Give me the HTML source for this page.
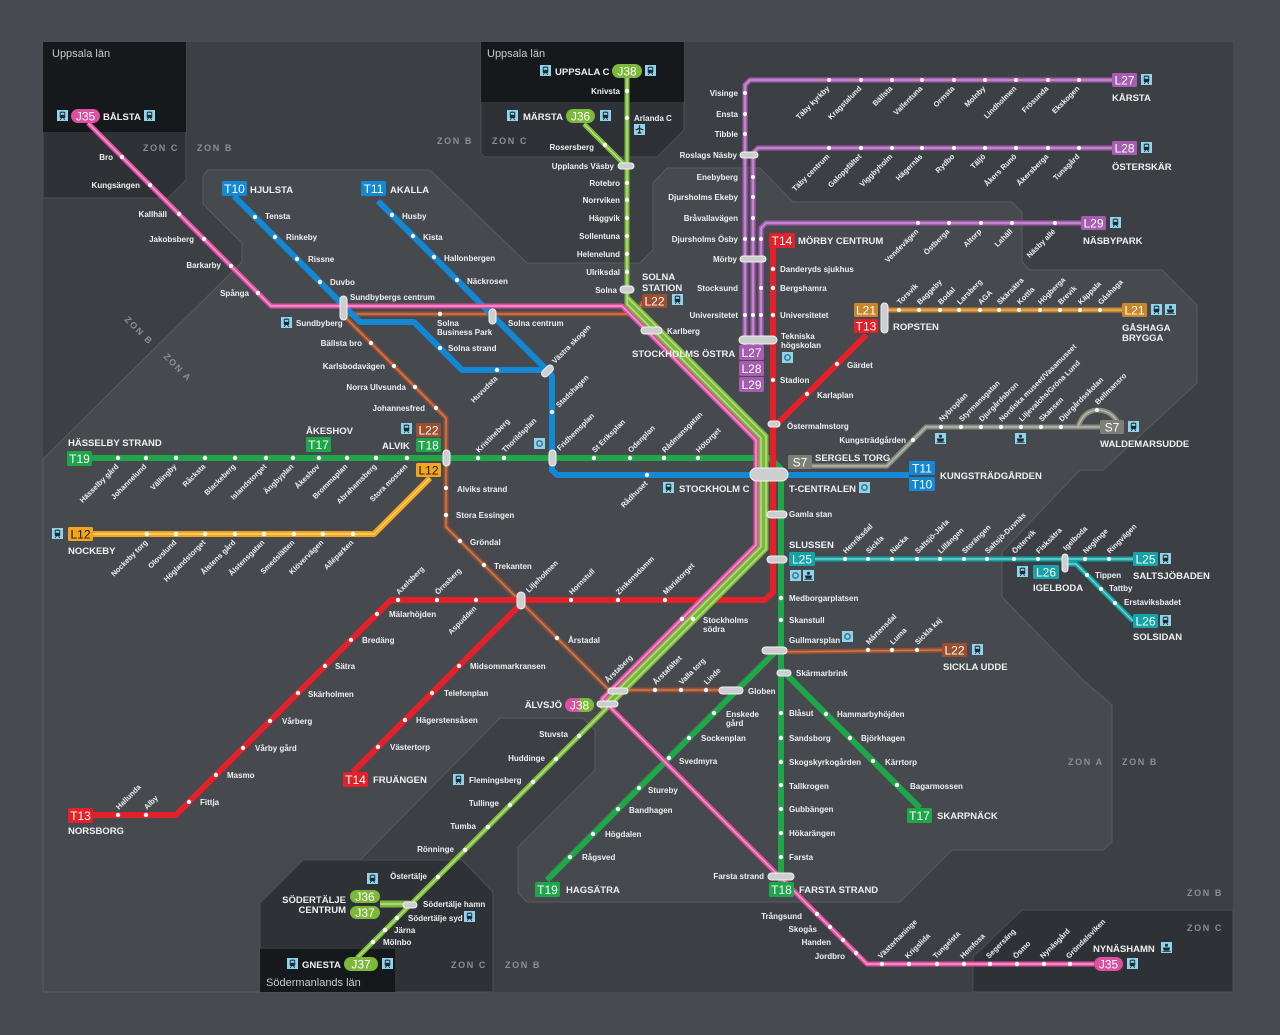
<!DOCTYPE html>
<html><head><meta charset="utf-8">
<style>
html,body{margin:0;padding:0;background:#474b51}
svg{display:block}
text{font-family:"Liberation Sans",Arial,sans-serif;font-weight:bold;fill:#eef0f2;font-size:8px}
.e{text-anchor:end}
.r{font-size:7.5px}
.t{font-size:9.5px}
.b{font-size:12px;fill:#fff;text-anchor:middle;font-weight:normal}
.bk{fill:#1a1a1a}
.z{font-size:9px;fill:#8b8f95;letter-spacing:1.6px}
.ln{font-size:11px;font-weight:normal;fill:#c9ccd0}
.cap{fill:#cdced0;stroke:#f2f2f2;stroke-width:1}
.d{fill:#fff}
.L{fill:none;stroke-linejoin:round;stroke-linecap:butt}
</style></head><body>
<svg width="1280" height="1035" viewBox="0 0 1280 1035" xmlns="http://www.w3.org/2000/svg">
<defs>
<symbol id="tr" viewBox="0 0 12 12"><rect width="12" height="12" fill="#8fd4ec"/><rect x="3" y="1.8" width="6" height="7" rx="1.5" fill="#1b2a33"/><rect x="4" y="3" width="4" height="2.2" fill="#8fd4ec"/><path d="M3.6,10.8 L4.8,8.8 M8.4,10.8 L7.2,8.8" stroke="#1b2a33" stroke-width="1"/></symbol>
<symbol id="fe" viewBox="0 0 12 12"><rect width="12" height="12" fill="#8fd4ec"/><rect x="4.5" y="2" width="3" height="3" fill="#1b2a33"/><path d="M2,6 H10 L9,9.5 H3 Z" fill="#1b2a33"/><path d="M1.5,10.5 H10.5" stroke="#1b2a33" stroke-width="0.8"/></symbol>
<symbol id="bu" viewBox="0 0 12 12"><rect width="12" height="12" fill="#8fd4ec"/><circle cx="6" cy="6" r="3.8" fill="#3f7f95"/><circle cx="6" cy="6" r="2" fill="#8fd4ec"/></symbol>
<symbol id="pl" viewBox="0 0 12 12"><rect width="12" height="12" fill="#8fd4ec"/><path d="M6,1.5 V10.5 M1.8,6.5 L6,4.8 L10.2,6.5 M4,10 L6,9 L8,10" stroke="#1b2a33" stroke-width="1.4" fill="none"/></symbol>
</defs>

<!-- ZONES -->
<rect width="1280" height="1035" fill="#474b51"/>
<rect x="43" y="42" width="1190" height="950" fill="#3c3f44"/>
<polygon fill="#46494e" stroke="#585c61" stroke-width="1" points="43,459 242,262 242,243 203,204 203,176 208,170 430,170 527,263 640,263 653,250 653,183 667,168 760,168 793,202 1012,202 1022,212 1022,262 1030,270 1162,270 1197,305 1197,383 1103,470 1080,470 1002,552 1002,597 1083,680 1112,705 1112,842 1103,850 952,850 900,902 527,902 518,893 518,847 595,770 595,730 583,718 500,718 360,860 303,860 260,903 260,992 43,992"/>
<polygon fill="#2e3135" stroke="#4c5055" points="43,42 186,42 186,180 168,198 43,198"/>
<rect x="43" y="42" width="143" height="90" fill="#16191c"/>
<path fill="#2e3135" stroke="#4c5055" d="M481,42 H684 V130 L657,157 H487 Q481,157 481,151 Z"/>
<rect x="481" y="42" width="203" height="60" fill="#16191c"/>
<polygon fill="#2e3135" stroke="#4c5055" points="303,860 462,860 493,892 493,992 260,992 260,903"/>
<rect x="260" y="949" width="135" height="43" fill="#16191c"/>
<polygon fill="#2e3135" stroke="#4c5055" points="973,992 973,957 1022,910 1233,910 1233,992"/>

<text class="ln" x="52" y="57">Uppsala län</text>
<text class="ln" x="487" y="57">Uppsala län</text>
<text class="ln" x="266" y="986">Södermanlands län</text>

<text class="z" x="143" y="151">ZON C</text>
<text class="z" x="197" y="151">ZON B</text>
<text class="z" x="437" y="144">ZON B</text>
<text class="z" x="492" y="144">ZON C</text>
<text class="z" transform="translate(124,320) rotate(45)">ZON B</text>
<text class="z" transform="translate(163,357) rotate(45)">ZON A</text>
<text class="z" x="1068" y="765">ZON A</text>
<text class="z" x="1122" y="765">ZON B</text>
<text class="z" x="1187" y="896">ZON B</text>
<text class="z" x="1187" y="931">ZON C</text>
<text class="z" x="451" y="968">ZON C</text>
<text class="z" x="505" y="968">ZON B</text>

<!-- LINES -->
<!-- Roslagsbanan purple -->
<g class="L" stroke="#a55cb1" stroke-width="5">
<path d="M1112,80 L750,80 L745,85 L745,345"/>
<path d="M1112,148 L758,148 L753,153 L753,345"/>
<path d="M1081,223 L766,223 L761,228 L761,345"/>
</g>
<g class="L" stroke="#cf9ad6" stroke-width="1.3">
<path d="M1112,80 L750,80 L745,85 L745,345"/>
<path d="M1112,148 L758,148 L753,153 L753,345"/>
<path d="M1081,223 L766,223 L761,228 L761,345"/>
</g>
<!-- L21 -->
<path class="L" stroke="#c9872c" stroke-width="5" d="M888,310 L1122,310"/>
<path class="L" stroke="#e6b46a" stroke-width="1.3" d="M888,310 L1122,310"/>
<!-- S7 -->
<path class="L" stroke="#8c8b82" stroke-width="5" d="M812,466 L887,466 L926,427 L1100,427 M1078,427 Q1083,411 1097,410 Q1110,410 1117,421"/>
<path class="L" stroke="#bdbcb3" stroke-width="1.3" d="M812,466 L887,466 L926,427 L1100,427 M1078,427 Q1083,411 1097,410 Q1110,410 1117,421"/>
<!-- Saltsjöbanan -->
<path class="L" stroke="#14a4a7" stroke-width="5" d="M815,559 L1133,559 M1065,564 L1076,564 L1133,621"/>
<path class="L" stroke="#7ad6d6" stroke-width="1.3" d="M815,559 L1133,559 M1065,564 L1076,564 L1133,621"/>
<!-- L22 brown -->
<path class="L" stroke="#9c4f2f" stroke-width="5" d="M643,302 L634,314 L342,314 L446,418 L446,527 L609,690 L738,690 L776,652 L943,650"/>
<path class="L" stroke="#c98360" stroke-width="1.3" d="M643,302 L634,314 L342,314 L446,418 L446,527 L609,690 L738,690 L776,652 L943,650"/>
<!-- L12 -->
<path class="L" stroke="#f3a51d" stroke-width="6" d="M430,478 L374,534 L93,534"/>
<path class="L" stroke="#ffd277" stroke-width="1.4" d="M430,478 L374,534 L93,534"/>
<!-- Blue -->
<g class="L" stroke="#1389d6" stroke-width="6">
<path d="M234,196 L360,322 L414,322 L462,370 L547,370 L552,376 L552,470 L557,475 L909,475"/>
<path d="M378,201 L547,370"/>
</g>
<!-- Green metro -->
<g class="L" stroke="#1fa64a" stroke-width="6">
<path d="M92,458 L770,458 L781,469 L781,882"/>
<path d="M781,646 L547,880"/>
<path d="M782,670 L920,808"/>
</g>
<!-- Red -->
<g class="L" stroke="#e4202a" stroke-width="6">
<path d="M773,248 L773,592 L765,600 L391,600 L176,815 L93,815"/>
<path d="M525,600 L353,772"/>
<path d="M774,427 L866,335"/>
</g>
<!-- Pendeltåg -->
<g class="L" stroke-width="5">
<path stroke="#7cb93a" d="M627,78 L627,304 L761,438 L761,547 L600,708"/>
<path stroke="#7cb93a" d="M627,290 L627,297 L766,436 L766,549 L357,958"/>
<path stroke="#7cb93a" d="M584,124 L625,165"/>
<path stroke="#7cb93a" stroke-width="7" d="M380,904 L410,904"/>
<path stroke="#dd4fa0" d="M88,123 L271,306 L622,306 L756,440 L756,545 L602,699 L855,952 L867,964 L1094,964"/>
</g>
<g class="L" stroke-width="1.4">
<path stroke="#b9e08a" d="M627,78 L627,304 L761,438 L761,547 L600,708"/>
<path stroke="#b9e08a" d="M627,297 L766,436 L766,549 L357,958"/>
<path stroke="#b9e08a" d="M584,124 L625,165"/>
<path stroke="#b9e08a" d="M380,904 L410,904"/>
<path stroke="#f79bd0" d="M88,123 L271,306 L622,306 L756,440 L756,545 L602,699 L855,952 L867,964 L1094,964"/>
</g>

<!-- STATION DOTS -->
<g class="d">
<circle cx="122" cy="157" r="2.2"/><circle cx="150" cy="185" r="2.2"/><circle cx="179" cy="214" r="2.2"/><circle cx="204" cy="239" r="2.2"/><circle cx="231" cy="266" r="2.2"/><circle cx="258" cy="293" r="2.2"/>
<circle cx="817" cy="914" r="2.2"/><circle cx="830" cy="927" r="2.2"/><circle cx="843" cy="940" r="2.2"/><circle cx="856" cy="953" r="2.2"/>
<circle cx="882" cy="964" r="2.2"/><circle cx="909" cy="964" r="2.2"/><circle cx="937" cy="964" r="2.2"/><circle cx="964" cy="964" r="2.2"/><circle cx="990" cy="964" r="2.2"/><circle cx="1017" cy="964" r="2.2"/><circle cx="1044" cy="964" r="2.2"/><circle cx="1070" cy="964" r="2.2"/>
<circle cx="682" cy="619" r="2.2"/><circle cx="693" cy="619" r="2.2"/>
<circle cx="627" cy="91" r="2.2"/><circle cx="627" cy="118" r="2.2"/><circle cx="627" cy="183" r="2.2"/><circle cx="627" cy="200" r="2.2"/><circle cx="627" cy="218" r="2.2"/><circle cx="627" cy="236" r="2.2"/><circle cx="627" cy="254" r="2.2"/><circle cx="627" cy="272" r="2.2"/><circle cx="605" cy="145" r="2.2"/>
<circle cx="579" cy="736" r="2.2"/><circle cx="556" cy="759" r="2.2"/><circle cx="533" cy="782" r="2.2"/><circle cx="510" cy="805" r="2.2"/><circle cx="488" cy="827" r="2.2"/><circle cx="465" cy="850" r="2.2"/><circle cx="438" cy="877" r="2.2"/><circle cx="397" cy="918" r="2.2"/><circle cx="385" cy="930" r="2.2"/><circle cx="373" cy="942" r="2.2"/>
<circle cx="773" cy="269" r="2.2"/><circle cx="773" cy="288" r="2.2"/><circle cx="773" cy="315" r="2.2"/><circle cx="773" cy="380" r="2.2"/><circle cx="807" cy="394" r="2.2"/><circle cx="837" cy="364" r="2.2"/>
<circle cx="665" cy="600" r="2.2"/><circle cx="618" cy="600" r="2.2"/><circle cx="571" cy="600" r="2.2"/><circle cx="476" cy="600" r="2.2"/><circle cx="437" cy="600" r="2.2"/><circle cx="398" cy="600" r="2.2"/>
<circle cx="377" cy="614" r="2.2"/><circle cx="351" cy="640" r="2.2"/><circle cx="325" cy="666" r="2.2"/><circle cx="298" cy="693" r="2.2"/><circle cx="270" cy="721" r="2.2"/><circle cx="243" cy="748" r="2.2"/><circle cx="216" cy="775" r="2.2"/><circle cx="189" cy="802" r="2.2"/><circle cx="146" cy="815" r="2.2"/><circle cx="118" cy="815" r="2.2"/>
<circle cx="459" cy="666" r="2.2"/><circle cx="432" cy="693" r="2.2"/><circle cx="405" cy="720" r="2.2"/><circle cx="378" cy="747" r="2.2"/>
<circle cx="255" cy="217" r="2.2"/><circle cx="275" cy="237" r="2.2"/><circle cx="297" cy="259" r="2.2"/><circle cx="320" cy="282" r="2.2"/>
<circle cx="392" cy="215" r="2.2"/><circle cx="413" cy="236" r="2.2"/><circle cx="434" cy="257" r="2.2"/><circle cx="457" cy="280" r="2.2"/>
<circle cx="440" cy="348" r="2.2"/><circle cx="497" cy="370" r="2.2"/><circle cx="552" cy="412" r="2.2"/><circle cx="647" cy="475" r="2.2"/>
<circle cx="118" cy="458" r="2.2"/><circle cx="146" cy="458" r="2.2"/><circle cx="176" cy="458" r="2.2"/><circle cx="205" cy="458" r="2.2"/><circle cx="235" cy="458" r="2.2"/><circle cx="266" cy="458" r="2.2"/><circle cx="293" cy="458" r="2.2"/><circle cx="319" cy="458" r="2.2"/><circle cx="347" cy="458" r="2.2"/><circle cx="376" cy="458" r="2.2"/><circle cx="407" cy="458" r="2.2"/>
<circle cx="478" cy="458" r="2.2"/><circle cx="504" cy="458" r="2.2"/><circle cx="594" cy="458" r="2.2"/><circle cx="630" cy="458" r="2.2"/><circle cx="664" cy="458" r="2.2"/><circle cx="698" cy="458" r="2.2"/>
<circle cx="781" cy="598" r="2.2"/><circle cx="781" cy="620" r="2.2"/><circle cx="781" cy="713" r="2.2"/><circle cx="781" cy="738" r="2.2"/><circle cx="781" cy="762" r="2.2"/><circle cx="781" cy="785" r="2.2"/><circle cx="781" cy="809" r="2.2"/><circle cx="781" cy="833" r="2.2"/><circle cx="781" cy="857" r="2.2"/>
<circle cx="714" cy="713" r="2.2"/><circle cx="689" cy="738" r="2.2"/><circle cx="669" cy="758" r="2.2"/><circle cx="639" cy="788" r="2.2"/><circle cx="618" cy="809" r="2.2"/><circle cx="593" cy="834" r="2.2"/><circle cx="570" cy="857" r="2.2"/>
<circle cx="826" cy="714" r="2.2"/><circle cx="850" cy="738" r="2.2"/><circle cx="873" cy="761" r="2.2"/><circle cx="897" cy="785" r="2.2"/>
<circle cx="440" cy="314" r="2.2"/><circle cx="371" cy="343" r="2.2"/><circle cx="394" cy="366" r="2.2"/><circle cx="415" cy="387" r="2.2"/><circle cx="436" cy="408" r="2.2"/><circle cx="446" cy="488" r="2.2"/><circle cx="446" cy="515" r="2.2"/><circle cx="460" cy="541" r="2.2"/><circle cx="484" cy="565" r="2.2"/><circle cx="557" cy="638" r="2.2"/><circle cx="655" cy="690" r="2.2"/><circle cx="681" cy="690" r="2.2"/><circle cx="706" cy="690" r="2.2"/><circle cx="868" cy="650" r="2.2"/><circle cx="892" cy="650" r="2.2"/><circle cx="917" cy="650" r="2.2"/>
<circle cx="147" cy="534" r="2.2"/><circle cx="176" cy="534" r="2.2"/><circle cx="205" cy="534" r="2.2"/><circle cx="235" cy="534" r="2.2"/><circle cx="264" cy="534" r="2.2"/><circle cx="294" cy="534" r="2.2"/><circle cx="323" cy="534" r="2.2"/><circle cx="353" cy="534" r="2.2"/>
<circle cx="899" cy="310" r="2"/><circle cx="919" cy="310" r="2"/><circle cx="940" cy="310" r="2"/><circle cx="959" cy="310" r="2"/><circle cx="980" cy="310" r="2"/><circle cx="999" cy="310" r="2"/><circle cx="1019" cy="310" r="2"/><circle cx="1040" cy="310" r="2"/><circle cx="1060" cy="310" r="2"/><circle cx="1080" cy="310" r="2"/><circle cx="1100" cy="310" r="2"/>
<circle cx="745" cy="93" r="2"/><circle cx="745" cy="114" r="2"/><circle cx="745" cy="134" r="2"/><circle cx="753" cy="177" r="2"/><circle cx="753" cy="197" r="2"/><circle cx="753" cy="218" r="2"/><circle cx="745" cy="239" r="2"/><circle cx="753" cy="239" r="2"/><circle cx="761" cy="239" r="2"/><circle cx="761" cy="288" r="2"/><circle cx="745" cy="315" r="2"/><circle cx="753" cy="315" r="2"/><circle cx="761" cy="315" r="2"/>
<circle cx="829" cy="80" r="2"/><circle cx="861" cy="80" r="2"/><circle cx="892" cy="80" r="2"/><circle cx="922" cy="80" r="2"/><circle cx="954" cy="80" r="2"/><circle cx="985" cy="80" r="2"/><circle cx="1016" cy="80" r="2"/><circle cx="1048" cy="80" r="2"/><circle cx="1079" cy="80" r="2"/>
<circle cx="829" cy="148" r="2"/><circle cx="861" cy="148" r="2"/><circle cx="892" cy="148" r="2"/><circle cx="922" cy="148" r="2"/><circle cx="954" cy="148" r="2"/><circle cx="985" cy="148" r="2"/><circle cx="1016" cy="148" r="2"/><circle cx="1048" cy="148" r="2"/><circle cx="1079" cy="148" r="2"/>
<circle cx="918" cy="223" r="2"/><circle cx="949" cy="223" r="2"/><circle cx="981" cy="223" r="2"/><circle cx="1012" cy="223" r="2"/><circle cx="1055" cy="223" r="2"/>
<circle cx="913" cy="440" r="2"/><circle cx="941" cy="427" r="2"/><circle cx="961" cy="427" r="2"/><circle cx="981" cy="427" r="2"/><circle cx="1001" cy="427" r="2"/><circle cx="1021" cy="427" r="2"/><circle cx="1041" cy="427" r="2"/><circle cx="1061" cy="427" r="2"/><circle cx="1097" cy="410" r="2"/>
<circle cx="845" cy="559" r="2"/><circle cx="868" cy="559" r="2"/><circle cx="892" cy="559" r="2"/><circle cx="917" cy="559" r="2"/><circle cx="940" cy="559" r="2"/><circle cx="964" cy="559" r="2"/><circle cx="987" cy="559" r="2"/><circle cx="1014" cy="559" r="2"/><circle cx="1038" cy="559" r="2"/><circle cx="1085" cy="559" r="2"/><circle cx="1109" cy="559" r="2"/>
<circle cx="1087" cy="575" r="2"/><circle cx="1101" cy="589" r="2"/><circle cx="1115" cy="603" r="2"/>
</g>

<!-- INTERCHANGE CAPSULES -->
<g class="cap">
<rect x="340" y="296" width="7" height="24" rx="3.5"/>
<rect x="489" y="309" width="7" height="15" rx="3.5"/>
<rect x="544" y="364" width="7" height="14" rx="3.5" transform="rotate(45 547.5 371)"/>
<rect x="443" y="450" width="7" height="16" rx="3.5"/>
<rect x="549" y="450" width="7" height="16" rx="3.5"/>
<rect x="750" y="468" width="38" height="13" rx="6.5"/>
<rect x="767" y="511" width="20" height="7" rx="3.5"/>
<rect x="767" y="556" width="20" height="7" rx="3.5"/>
<rect x="517" y="592" width="8" height="17" rx="4"/>
<rect x="762" y="647" width="25" height="7" rx="3.5"/>
<rect x="777" y="670" width="14" height="6" rx="3"/>
<rect x="719" y="687" width="24" height="7" rx="3.5"/>
<rect x="608" y="688" width="20" height="6" rx="3"/>
<rect x="597" y="701" width="21" height="6" rx="3"/>
<rect x="768" y="873" width="26" height="7" rx="3.5"/>
<rect x="618" y="163" width="16" height="6" rx="3"/>
<rect x="620" y="286" width="14" height="7" rx="3.5"/>
<rect x="641" y="327" width="21" height="7" rx="3.5"/>
<rect x="740" y="152" width="18" height="6" rx="3"/>
<rect x="740" y="256" width="26" height="6" rx="3"/>
<rect x="739" y="336" width="38" height="8" rx="4"/>
<rect x="768" y="421" width="12" height="6" rx="3"/>
<rect x="881" y="303" width="7" height="30" rx="3.5"/>
<rect x="1062" y="554" width="6" height="18" rx="3"/>
<rect x="403" y="902" width="14" height="6" rx="3"/>
</g>

<!-- BADGES -->
<g>
<rect x="222" y="181" width="25" height="15" rx="1.5" fill="#1389d6"/><text class="b" x="234.5" y="193">T10</text>
<rect x="361" y="181" width="25" height="15" rx="1.5" fill="#1389d6"/><text class="b" x="373.5" y="193">T11</text>
<rect x="909" y="461" width="26" height="14" rx="1.5" fill="#1389d6"/><text class="b" x="922" y="472.5">T11</text>
<rect x="909" y="477" width="26" height="14" rx="1.5" fill="#1389d6"/><text class="b" x="922" y="488.5">T10</text>
<rect x="67" y="451" width="25" height="15" rx="1.5" fill="#1fa64a"/><text class="b" x="79.5" y="463">T19</text>
<rect x="306" y="437" width="25" height="15" rx="1.5" fill="#1fa64a"/><text class="b" x="318.5" y="449">T17</text>
<rect x="416" y="438" width="25" height="14" rx="1.5" fill="#1fa64a"/><text class="b" x="428.5" y="449.5">T18</text>
<rect x="416" y="423" width="25" height="14" rx="1.5" fill="#9c4f2f"/><text class="b" x="428.5" y="434.5">L22</text>
<rect x="416" y="463" width="25" height="14" rx="1.5" fill="#f3a51d"/><text class="b bk" x="428.5" y="474.5">L12</text>
<rect x="68" y="527" width="25" height="14" rx="1.5" fill="#f3a51d"/><text class="b bk" x="80.5" y="538.5">L12</text>
<rect x="68" y="808" width="25" height="15" rx="1.5" fill="#e4202a"/><text class="b" x="80.5" y="820">T13</text>
<rect x="343" y="772" width="25" height="15" rx="1.5" fill="#e4202a"/><text class="b" x="355.5" y="784">T14</text>
<rect x="769" y="233" width="26" height="15" rx="1.5" fill="#e4202a"/><text class="b" x="782" y="245">T14</text>
<rect x="854" y="303" width="24" height="14" rx="1.5" fill="#c9872c"/><text class="b" x="866" y="314.5">L21</text>
<rect x="854" y="319" width="24" height="14" rx="1.5" fill="#e4202a"/><text class="b" x="866" y="330.5">T13</text>
<rect x="1122" y="303" width="25" height="14" rx="1.5" fill="#c9872c"/><text class="b" x="1134.5" y="314.5">L21</text>
<rect x="1112" y="73" width="25" height="14" rx="1.5" fill="#a55cb1"/><text class="b" x="1124.5" y="84.5">L27</text>
<rect x="1112" y="141" width="25" height="14" rx="1.5" fill="#a55cb1"/><text class="b" x="1124.5" y="152.5">L28</text>
<rect x="1081" y="216" width="25" height="14" rx="1.5" fill="#a55cb1"/><text class="b" x="1093.5" y="227.5">L29</text>
<rect x="739" y="345" width="25" height="15" rx="1.5" fill="#a55cb1"/><text class="b" x="751.5" y="357">L27</text>
<rect x="739" y="361" width="25" height="15" rx="1.5" fill="#a55cb1"/><text class="b" x="751.5" y="373">L28</text>
<rect x="739" y="377" width="25" height="15" rx="1.5" fill="#a55cb1"/><text class="b" x="751.5" y="389">L29</text>
<rect x="788" y="455" width="24" height="14" rx="1.5" fill="#7f7e76"/><text class="b" x="800" y="466.5">S7</text>
<rect x="1100" y="420" width="24" height="14" rx="1.5" fill="#7f7e76"/><text class="b" x="1112" y="431.5">S7</text>
<rect x="789" y="552" width="26" height="14" rx="1.5" fill="#14a4a7"/><text class="b" x="802" y="563.5">L25</text>
<rect x="1133" y="552" width="25" height="14" rx="1.5" fill="#14a4a7"/><text class="b" x="1145.5" y="563.5">L25</text>
<rect x="1033" y="565" width="26" height="14" rx="1.5" fill="#14a4a7"/><text class="b" x="1046" y="576.5">L26</text>
<rect x="1133" y="614" width="25" height="14" rx="1.5" fill="#14a4a7"/><text class="b" x="1145.5" y="625.5">L26</text>
<rect x="942" y="643" width="25" height="14" rx="1.5" fill="#9c4f2f"/><text class="b" x="954.5" y="654.5">L22</text>
<rect x="642" y="294" width="25" height="14" rx="1.5" fill="#9c4f2f"/><text class="b" x="654.5" y="305.5">L22</text>
<rect x="535" y="882" width="25" height="15" rx="1.5" fill="#1fa64a"/><text class="b" x="547.5" y="894">T19</text>
<rect x="769" y="882" width="25" height="15" rx="1.5" fill="#1fa64a"/><text class="b" x="781.5" y="894">T18</text>
<rect x="907" y="808" width="25" height="15" rx="1.5" fill="#1fa64a"/><text class="b" x="919.5" y="820">T17</text>
<!-- pills -->
<rect x="71" y="109" width="29" height="14" rx="7" fill="#dd4fa0"/><text class="b" x="85.5" y="120.5">J35</text>
<rect x="612" y="64" width="30" height="14" rx="7" fill="#7cb93a"/><text class="b" x="627" y="75.5">J38</text>
<rect x="566" y="109" width="29" height="14" rx="7" fill="#7cb93a"/><text class="b" x="580.5" y="120.5">J36</text>
<rect x="565" y="698" width="29" height="14" rx="7" fill="#dd4fa0"/><path d="M579.5,698 H587 A7,7 0 0 1 587,712 H579.5 Z" fill="#7cb93a"/><text class="b" x="579.5" y="709.5">J38</text>
<rect x="350" y="890" width="30" height="13" rx="6.5" fill="#7cb93a"/><text class="b" x="365" y="901">J36</text>
<rect x="350" y="906" width="30" height="13" rx="6.5" fill="#7cb93a"/><text class="b" x="365" y="917">J37</text>
<rect x="344" y="957" width="34" height="14" rx="7" fill="#7cb93a"/><text class="b" x="361" y="968.5">J37</text>
<rect x="1094" y="957" width="29" height="14" rx="7" fill="#dd4fa0"/><text class="b" x="1108.5" y="968.5">J35</text>
</g>

<!-- ICONS -->
<use href="#tr" x="57" y="110" width="11" height="11"/>
<use href="#tr" x="144" y="110" width="11" height="11"/>
<use href="#tr" x="540" y="65" width="11" height="11"/>
<use href="#tr" x="645" y="65" width="11" height="11"/>
<use href="#tr" x="507" y="110" width="11" height="11"/>
<use href="#tr" x="600" y="110" width="11" height="11"/>
<use href="#pl" x="634" y="124" width="11" height="11"/>
<use href="#tr" x="672" y="294" width="11" height="11"/>
<use href="#tr" x="281" y="317" width="11" height="11"/>
<use href="#tr" x="401" y="423" width="11" height="11"/>
<use href="#tr" x="52" y="528" width="11" height="11"/>
<use href="#bu" x="534" y="438" width="11" height="11"/>
<use href="#tr" x="663" y="482" width="11" height="11"/>
<use href="#bu" x="859" y="482" width="11" height="11"/>
<use href="#bu" x="782" y="352" width="11" height="11"/>
<use href="#bu" x="842" y="631" width="11" height="11"/>
<use href="#bu" x="790" y="570" width="11" height="11"/>
<use href="#fe" x="803" y="570" width="11" height="11"/>
<use href="#tr" x="1151" y="304" width="11" height="11"/>
<use href="#fe" x="1165" y="304" width="11" height="11"/>
<use href="#tr" x="1141" y="74" width="11" height="11"/>
<use href="#tr" x="1141" y="142" width="11" height="11"/>
<use href="#tr" x="1110" y="217" width="11" height="11"/>
<use href="#fe" x="935" y="433" width="11" height="11"/>
<use href="#fe" x="1015" y="433" width="11" height="11"/>
<use href="#tr" x="1128" y="421" width="11" height="11"/>
<use href="#tr" x="1160" y="553" width="11" height="11"/>
<use href="#tr" x="1017" y="566" width="11" height="11"/>
<use href="#tr" x="1160" y="615" width="11" height="11"/>
<use href="#tr" x="972" y="644" width="11" height="11"/>
<use href="#tr" x="453" y="774" width="11" height="11"/>
<use href="#tr" x="367" y="873" width="11" height="11"/>
<use href="#tr" x="464" y="911" width="11" height="11"/>
<use href="#tr" x="287" y="958" width="11" height="11"/>
<use href="#tr" x="382" y="958" width="11" height="11"/>
<use href="#fe" x="1161" y="942" width="11" height="11"/>
<use href="#tr" x="1127" y="958" width="11" height="11"/>

<!-- TERMINAL LABELS -->
<g class="t">
<text class="t" x="103" y="120">BÅLSTA</text>
<text class="t" x="555" y="75">UPPSALA C</text>
<text class="t" x="523" y="120">MÄRSTA</text>
<text class="t" x="250" y="193">HJULSTA</text>
<text class="t" x="390" y="193">AKALLA</text>
<text class="t" x="642" y="280">SOLNA</text>
<text class="t" x="642" y="291">STATION</text>
<text class="t" x="632" y="357">STOCKHOLMS ÖSTRA</text>
<text class="t" x="798" y="244">MÖRBY CENTRUM</text>
<text class="t" x="1112" y="101">KÅRSTA</text>
<text class="t" x="1112" y="170">ÖSTERSKÄR</text>
<text class="t" x="1083" y="244">NÄSBYPARK</text>
<text class="t" x="893" y="330">ROPSTEN</text>
<text class="t" x="1122" y="331">GÅSHAGA</text>
<text class="t" x="1122" y="341">BRYGGA</text>
<text class="t" x="1100" y="447">WALDEMARSUDDE</text>
<text class="t" x="815" y="461">SERGELS TORG</text>
<text class="t" x="940" y="479">KUNGSTRÄDGÅRDEN</text>
<text class="t" x="789" y="492">T-CENTRALEN</text>
<text class="t" x="679" y="492">STOCKHOLM C</text>
<text class="t" x="789" y="548">SLUSSEN</text>
<text class="t" x="1133" y="579">SALTSJÖBADEN</text>
<text class="t" x="1033" y="591">IGELBODA</text>
<text class="t" x="1133" y="640">SOLSIDAN</text>
<text class="t" x="943" y="670">SICKLA UDDE</text>
<text class="t" x="68" y="446">HÄSSELBY STRAND</text>
<text class="t" x="306" y="434">ÅKESHOV</text>
<text class="t" x="382" y="449">ALVIK</text>
<text class="t" x="68" y="554">NOCKEBY</text>
<text class="t" x="373" y="783">FRUÄNGEN</text>
<text class="t" x="68" y="834">NORSBORG</text>
<text class="t" x="566" y="893">HAGSÄTRA</text>
<text class="t" x="799" y="893">FARSTA STRAND</text>
<text class="t" x="937" y="819">SKARPNÄCK</text>
<text class="t" x="1093" y="952">NYNÄSHAMN</text>
<text class="t" x="302" y="968">GNESTA</text>
<text class="t e" x="562" y="708">ÄLVSJÖ</text>
<text class="t e" x="346" y="903">SÖDERTÄLJE</text>
<text class="t e" x="346" y="913">CENTRUM</text>
</g>

<!-- STATION LABELS right aligned -->
<g class="e">
<text class="e" x="113" y="160">Bro</text>
<text class="e" x="140" y="188">Kungsängen</text>
<text class="e" x="167" y="217">Kallhäll</text>
<text class="e" x="194" y="242">Jakobsberg</text>
<text class="e" x="221" y="268">Barkarby</text>
<text class="e" x="249" y="296">Spånga</text>
<text class="e" x="362" y="346">Bällsta bro</text>
<text class="e" x="385" y="369">Karlsbodavägen</text>
<text class="e" x="406" y="390">Norra Ulvsunda</text>
<text class="e" x="425" y="411">Johannesfred</text>
<text class="e" x="620" y="94">Knivsta</text>
<text class="e" x="594" y="150">Rosersberg</text>
<text class="e" x="614" y="169">Upplands Väsby</text>
<text class="e" x="620" y="186">Rotebro</text>
<text class="e" x="620" y="203">Norrviken</text>
<text class="e" x="620" y="221">Häggvik</text>
<text class="e" x="620" y="239">Sollentuna</text>
<text class="e" x="620" y="257">Helenelund</text>
<text class="e" x="620" y="275">Ulriksdal</text>
<text class="e" x="617" y="293">Solna</text>
<text class="e" x="738" y="96">Visinge</text>
<text class="e" x="738" y="117">Ensta</text>
<text class="e" x="738" y="137">Tibble</text>
<text class="e" x="737" y="158">Roslags Näsby</text>
<text class="e" x="738" y="180">Enebyberg</text>
<text class="e" x="738" y="200">Djursholms Ekeby</text>
<text class="e" x="738" y="221">Bråvallavägen</text>
<text class="e" x="738" y="242">Djursholms Ösby</text>
<text class="e" x="737" y="262">Mörby</text>
<text class="e" x="738" y="291">Stocksund</text>
<text class="e" x="738" y="318">Universitetet</text>
<text class="e" x="906" y="443">Kungsträdgården</text>
<text class="e" x="764" y="879">Farsta strand</text>
<text class="e" x="802" y="919">Trångsund</text>
<text class="e" x="817" y="932">Skogås</text>
<text class="e" x="831" y="945">Handen</text>
<text class="e" x="845" y="959">Jordbro</text>
<text class="e" x="568" y="737">Stuvsta</text>
<text class="e" x="545" y="761">Huddinge</text>
<text class="e" x="499" y="806">Tullinge</text>
<text class="e" x="476" y="829">Tumba</text>
<text class="e" x="454" y="852">Rönninge</text>
<text class="e" x="427" y="879">Östertälje</text>
</g>

<!-- STATION LABELS left aligned -->
<text x="265" y="219">Tensta</text>
<text x="286" y="240">Rinkeby</text>
<text x="308" y="262">Rissne</text>
<text x="330" y="285">Duvbo</text>
<text x="350" y="300">Sundbybergs centrum</text>
<text x="296" y="326">Sundbyberg</text>
<text x="402" y="219">Husby</text>
<text x="423" y="240">Kista</text>
<text x="444" y="261">Hallonbergen</text>
<text x="467" y="284">Näckrosen</text>
<text x="437" y="326">Solna</text>
<text x="437" y="335">Business Park</text>
<text x="508" y="326">Solna centrum</text>
<text x="448" y="351">Solna strand</text>
<text x="634" y="121">Arlanda C</text>
<text x="667" y="334">Karlberg</text>
<text x="780" y="272">Danderyds sjukhus</text>
<text x="780" y="291">Bergshamra</text>
<text x="780" y="318">Universitetet</text>
<text x="781" y="339">Tekniska</text>
<text x="781" y="348">högskolan</text>
<text x="780" y="383">Stadion</text>
<text x="847" y="368">Gärdet</text>
<text x="817" y="398">Karlaplan</text>
<text x="787" y="429">Östermalmstorg</text>
<text x="789" y="517">Gamla stan</text>
<text x="789" y="601">Medborgarplatsen</text>
<text x="789" y="623">Skanstull</text>
<text x="789" y="643">Gullmarsplan</text>
<text x="796" y="676">Skärmarbrink</text>
<text x="748" y="694">Globen</text>
<text x="726" y="717">Enskede</text>
<text x="726" y="726">gård</text>
<text x="701" y="741">Sockenplan</text>
<text x="679" y="764">Svedmyra</text>
<text x="648" y="793">Stureby</text>
<text x="629" y="813">Bandhagen</text>
<text x="605" y="837">Högdalen</text>
<text x="582" y="860">Rågsved</text>
<text x="789" y="716">Blåsut</text>
<text x="789" y="741">Sandsborg</text>
<text x="789" y="765">Skogskyrkogården</text>
<text x="789" y="789">Tallkrogen</text>
<text x="789" y="812">Gubbängen</text>
<text x="789" y="836">Hökarängen</text>
<text x="789" y="860">Farsta</text>
<text x="837" y="717">Hammarbyhöjden</text>
<text x="861" y="741">Björkhagen</text>
<text x="885" y="765">Kärrtorp</text>
<text x="910" y="789">Bagarmossen</text>
<text x="703" y="623">Stockholms</text>
<text x="703" y="632">södra</text>
<text x="568" y="643">Årstadal</text>
<text x="470" y="669">Midsommarkransen</text>
<text x="444" y="696">Telefonplan</text>
<text x="416" y="723">Hägerstensåsen</text>
<text x="390" y="750">Västertorp</text>
<text x="389" y="617">Mälarhöjden</text>
<text x="362" y="643">Bredäng</text>
<text x="335" y="669">Sätra</text>
<text x="308" y="697">Skärholmen</text>
<text x="282" y="724">Vårberg</text>
<text x="255" y="751">Vårby gård</text>
<text x="227" y="778">Masmo</text>
<text x="200" y="805">Fittja</text>
<text x="457" y="492">Alviks strand</text>
<text x="456" y="518">Stora Essingen</text>
<text x="470" y="545">Gröndal</text>
<text x="494" y="569">Trekanten</text>
<text x="469" y="783">Flemingsberg</text>
<text x="423" y="907">Södertälje hamn</text>
<text x="408" y="921">Södertälje syd</text>
<text x="394" y="933">Järna</text>
<text x="383" y="945">Mölnbo</text>
<text x="1095" y="578">Tippen</text>
<text x="1109" y="591">Tattby</text>
<text x="1124" y="605">Erstaviksbadet</text>

<!-- ROTATED LABELS below-line (end anchored) -->
<g>
<text class="r e" transform="translate(119,467) rotate(-45)">Hässelby gård</text>
<text class="r e" transform="translate(147,467) rotate(-45)">Johannelund</text>
<text class="r e" transform="translate(177,467) rotate(-45)">Vällingby</text>
<text class="r e" transform="translate(206,467) rotate(-45)">Råcksta</text>
<text class="r e" transform="translate(236,467) rotate(-45)">Blackeberg</text>
<text class="r e" transform="translate(267,467) rotate(-45)">Islandstorget</text>
<text class="r e" transform="translate(294,467) rotate(-45)">Ängbyplan</text>
<text class="r e" transform="translate(320,467) rotate(-45)">Åkeshov</text>
<text class="r e" transform="translate(348,467) rotate(-45)">Brommaplan</text>
<text class="r e" transform="translate(377,467) rotate(-45)">Abrahamsberg</text>
<text class="r e" transform="translate(408,467) rotate(-45)">Stora mossen</text>
<text class="r e" transform="translate(148,543) rotate(-45)">Nockeby torg</text>
<text class="r e" transform="translate(177,543) rotate(-45)">Olovslund</text>
<text class="r e" transform="translate(206,543) rotate(-45)">Höglandstorget</text>
<text class="r e" transform="translate(236,543) rotate(-45)">Ålstens gård</text>
<text class="r e" transform="translate(265,543) rotate(-45)">Ålstensgatan</text>
<text class="r e" transform="translate(295,543) rotate(-45)">Smedslätten</text>
<text class="r e" transform="translate(324,543) rotate(-45)">Klövervägen</text>
<text class="r e" transform="translate(354,543) rotate(-45)">Alléparken</text>
<text class="r e" transform="translate(477,609) rotate(-45)">Aspudden</text>
<text class="r e" transform="translate(498,379) rotate(-45)">Huvudsta</text>
<text class="r e" transform="translate(648,484) rotate(-45)">Rådhuset</text>
<text class="r e" transform="translate(830,89) rotate(-45)">Täby kyrkby</text>
<text class="r e" transform="translate(862,89) rotate(-45)">Kragstalund</text>
<text class="r e" transform="translate(893,89) rotate(-45)">Bällsta</text>
<text class="r e" transform="translate(923,89) rotate(-45)">Vallentuna</text>
<text class="r e" transform="translate(955,89) rotate(-45)">Ormsta</text>
<text class="r e" transform="translate(986,89) rotate(-45)">Molnby</text>
<text class="r e" transform="translate(1017,89) rotate(-45)">Lindholmen</text>
<text class="r e" transform="translate(1049,89) rotate(-45)">Frösunda</text>
<text class="r e" transform="translate(1080,89) rotate(-45)">Ekskogen</text>
<text class="r e" transform="translate(830,157) rotate(-45)">Täby centrum</text>
<text class="r e" transform="translate(862,157) rotate(-45)">Galoppfältet</text>
<text class="r e" transform="translate(893,157) rotate(-45)">Viggbyholm</text>
<text class="r e" transform="translate(923,157) rotate(-45)">Hägernäs</text>
<text class="r e" transform="translate(955,157) rotate(-45)">Rydbo</text>
<text class="r e" transform="translate(986,157) rotate(-45)">Täljö</text>
<text class="r e" transform="translate(1017,157) rotate(-45)">Åkers Runö</text>
<text class="r e" transform="translate(1049,157) rotate(-45)">Åkersberga</text>
<text class="r e" transform="translate(1080,157) rotate(-45)">Tunagård</text>
<text class="r e" transform="translate(919,232) rotate(-45)">Vendevägen</text>
<text class="r e" transform="translate(950,232) rotate(-45)">Östberga</text>
<text class="r e" transform="translate(982,232) rotate(-45)">Altorp</text>
<text class="r e" transform="translate(1013,232) rotate(-45)">Lahäll</text>
<text class="r e" transform="translate(1056,232) rotate(-45)">Näsby allé</text>
</g>

<!-- ROTATED LABELS above-line (start anchored) -->
<g>
<text class="r" transform="translate(479,453) rotate(-45)">Kristineberg</text>
<text class="r" transform="translate(505,453) rotate(-45)">Thorildsplan</text>
<text class="r" transform="translate(560,451) rotate(-45)">Fridhemsplan</text>
<text class="r" transform="translate(595,453) rotate(-45)">St Eriksplan</text>
<text class="r" transform="translate(631,453) rotate(-45)">Odenplan</text>
<text class="r" transform="translate(665,453) rotate(-45)">Rådmansgatan</text>
<text class="r" transform="translate(699,453) rotate(-45)">Hötorget</text>
<text class="r" transform="translate(399,595) rotate(-45)">Axelsberg</text>
<text class="r" transform="translate(438,595) rotate(-45)">Örnsberg</text>
<text class="r" transform="translate(529,593) rotate(-45)">Liljeholmen</text>
<text class="r" transform="translate(572,595) rotate(-45)">Hornstull</text>
<text class="r" transform="translate(619,595) rotate(-45)">Zinkensdamm</text>
<text class="r" transform="translate(666,595) rotate(-45)">Mariatorget</text>
<text class="r" transform="translate(119,810) rotate(-45)">Hallunda</text>
<text class="r" transform="translate(147,810) rotate(-45)">Alby</text>
<text class="r" transform="translate(608,683) rotate(-45)">Årstaberg</text>
<text class="r" transform="translate(656,685) rotate(-45)">Årstafältet</text>
<text class="r" transform="translate(682,685) rotate(-45)">Valla torg</text>
<text class="r" transform="translate(707,685) rotate(-45)">Linde</text>
<text class="r" transform="translate(869,645) rotate(-45)">Mårtensdal</text>
<text class="r" transform="translate(893,645) rotate(-45)">Luma</text>
<text class="r" transform="translate(918,645) rotate(-45)">Sickla kaj</text>
<text class="r" transform="translate(846,554) rotate(-45)">Henriksdal</text>
<text class="r" transform="translate(869,554) rotate(-45)">Sickla</text>
<text class="r" transform="translate(893,554) rotate(-45)">Nacka</text>
<text class="r" transform="translate(918,554) rotate(-45)">Saltsjö-Järla</text>
<text class="r" transform="translate(941,554) rotate(-45)">Lillängen</text>
<text class="r" transform="translate(965,554) rotate(-45)">Storängen</text>
<text class="r" transform="translate(988,554) rotate(-45)">Saltsjö-Duvnäs</text>
<text class="r" transform="translate(1015,554) rotate(-45)">Östervik</text>
<text class="r" transform="translate(1039,554) rotate(-45)">Fisksätra</text>
<text class="r" transform="translate(1066,551) rotate(-45)">Igelboda</text>
<text class="r" transform="translate(1086,554) rotate(-45)">Neglinge</text>
<text class="r" transform="translate(1110,554) rotate(-45)">Ringvägen</text>
<text class="r" transform="translate(942,422) rotate(-45)">Nybroplan</text>
<text class="r" transform="translate(962,422) rotate(-45)">Styrmansgatan</text>
<text class="r" transform="translate(982,422) rotate(-45)">Djurgårdsbron</text>
<text class="r" transform="translate(1002,422) rotate(-45)">Nordiska museet/Vasamuseet</text>
<text class="r" transform="translate(1022,422) rotate(-45)">Liljevalchs/Gröna Lund</text>
<text class="r" transform="translate(1042,422) rotate(-45)">Skansen</text>
<text class="r" transform="translate(1062,422) rotate(-45)">Djurgårdsskolan</text>
<text class="r" transform="translate(1098,405) rotate(-45)">Bellmansro</text>
<text class="r" transform="translate(900,305) rotate(-45)">Torsvik</text>
<text class="r" transform="translate(920,305) rotate(-45)">Baggeby</text>
<text class="r" transform="translate(941,305) rotate(-45)">Bodal</text>
<text class="r" transform="translate(960,305) rotate(-45)">Larsberg</text>
<text class="r" transform="translate(981,305) rotate(-45)">AGA</text>
<text class="r" transform="translate(1000,305) rotate(-45)">Skärsätra</text>
<text class="r" transform="translate(1020,305) rotate(-45)">Kottla</text>
<text class="r" transform="translate(1041,305) rotate(-45)">Högberga</text>
<text class="r" transform="translate(1061,305) rotate(-45)">Brevik</text>
<text class="r" transform="translate(1081,305) rotate(-45)">Käppala</text>
<text class="r" transform="translate(1101,305) rotate(-45)">Gåshaga</text>
<text class="r" transform="translate(881,959) rotate(-45)">Västerhaninge</text>
<text class="r" transform="translate(908,959) rotate(-45)">Krigslida</text>
<text class="r" transform="translate(936,959) rotate(-45)">Tungelsta</text>
<text class="r" transform="translate(963,959) rotate(-45)">Hemfosa</text>
<text class="r" transform="translate(989,959) rotate(-45)">Segersäng</text>
<text class="r" transform="translate(1016,959) rotate(-45)">Ösmo</text>
<text class="r" transform="translate(1043,959) rotate(-45)">Nynäsgård</text>
<text class="r" transform="translate(1069,959) rotate(-45)">Gröndalsviken</text>
<text class="r" transform="translate(555,364) rotate(-45)">Västra skogen</text>
<text class="r" transform="translate(559,408) rotate(-45)">Stadshagen</text>
</g>
</svg>
</body></html>
